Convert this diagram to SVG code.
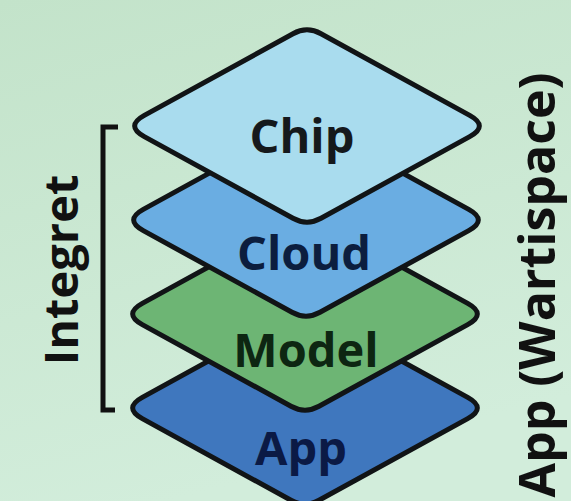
<svg xmlns="http://www.w3.org/2000/svg" xmlns:xlink="http://www.w3.org/1999/xlink" width="571" height="501" viewBox="0 0 571 501">
<defs>
<linearGradient id="bg" x1="0" y1="0" x2="0.3" y2="1">
<stop offset="0" stop-color="#c3e3ca"/>
<stop offset="1" stop-color="#d2eddb"/>
</linearGradient>
<path id="layer" d="M -162.7,-10.6 L -14,-92.3 Q 0,-100 14,-92.3 L 162.7,-10.6 Q 182,0 162.7,10.6 L 14,92.3 Q 0,100 -14,92.3 L -162.7,10.6 Q -182,0 -162.7,-10.6 Z"/>
</defs>
<style>
.lay{stroke:#111416;stroke-width:5;stroke-linejoin:round}
.lbl{font-family:"Open Sans","Noto Sans","DejaVu Sans",sans-serif;font-weight:700;font-size:47px;text-anchor:middle}
.side{font-family:"Open Sans","Noto Sans","DejaVu Sans",sans-serif;font-weight:700;text-anchor:middle;fill:#111}
</style>
<rect width="571" height="501" fill="url(#bg)"/>
<g id="node-app">
<use xlink:href="#layer" href="#layer" class="lay" transform="translate(305,408)" fill="#3f77be"/>
<text class="lbl" x="301" y="465" fill="#0b1a45">App</text>
</g>
<g id="node-model">
<use xlink:href="#layer" href="#layer" class="lay" transform="translate(305,314)" fill="#6db574"/>
<text class="lbl" x="306" y="367" fill="#0d2612">Model</text>
</g>
<g id="node-cloud">
<use xlink:href="#layer" href="#layer" class="lay" transform="translate(306,220)" fill="#6aade2"/>
<text class="lbl" x="304" y="270" fill="#0c1e3e">Cloud</text>
</g>
<g id="node-chip">
<use xlink:href="#layer" href="#layer" class="lay" transform="translate(307,126)" fill="#a9dcee"/>
<text class="lbl" x="302" y="153" fill="#15191c">Chip</text>
</g>
<g id="bracket">
<path d="M118,127 H103 V410 H115" fill="none" stroke="#111" stroke-width="5" stroke-linejoin="miter"/>
</g>
<g id="label-integret">
<text class="side" font-size="47" transform="translate(78,270) rotate(-90)">Integret</text>
</g>
<g id="label-app-wartispace">
<text class="side" font-size="50" transform="translate(555,285) rotate(-90)">App (Wartispace)</text>
</g>
<g id="connectors"/>
</svg>
